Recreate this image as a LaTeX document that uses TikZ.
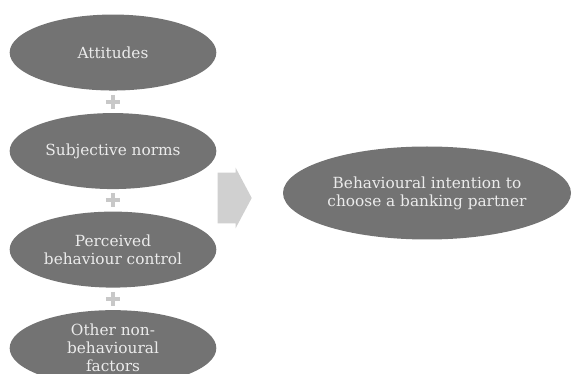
\documentclass[tikz,border=0pt]{standalone}
\usepackage{fontspec}
\setmainfont{DejaVu Serif}
\usetikzlibrary{matrix,shapes.geometric,shapes.arrows}
\definecolor{ovalgray}{HTML}{737373}
\definecolor{plusgray}{HTML}{C8C8C8}
\definecolor{arrowgray}{HTML}{D0D0D0}

\begin{document}
\begin{tikzpicture}[x=0.75pt,y=-0.75pt,
    factor/.style={ellipse,fill=ovalgray,text=white!92!black,inner sep=0pt,
      minimum width=155pt,minimum height=57pt,align=center,
      font=\fontsize{11.5}{13.5}\selectfont},
    plusmark/.style={minimum size=10.5pt,inner sep=0pt,
      path picture={\draw[plusgray,line width=3pt]
        (path picture bounding box.west) -- (path picture bounding box.east)
        (path picture bounding box.north) -- (path picture bounding box.south);}},
    bigarrow/.style={single arrow,fill=arrowgray,inner xsep=0pt,inner ysep=18.75pt,
      minimum height=25.5pt,
      single arrow head extend=3.75pt,single arrow tip angle=124}]
    \useasboundingbox (0,0) rectangle (572,374);
    \matrix (m) [row sep=3pt, inner sep=0pt, anchor=north] at (113,14)
    { \node[factor] (att) {Attitudes}; \\
      \node[plusmark] (p1) {}; \\
      \node[factor] (norms) {Subjective norms}; \\
      \node[plusmark] (p2) {}; \\
      \node[factor] (pbc) {Perceived\\behaviour control}; \\
      \node[plusmark] (p3) {}; \\
      \node[factor] (other) {Other non-\\behavioural\\factors}; \\ };
    \node[bigarrow] (impl) at (228,198) {};
    \node[factor,minimum width=216pt,minimum height=69.75pt] (intent) at (427,193)
      {Behavioural intention to\\choose a banking partner};
  \end{tikzpicture}
\end{document}
